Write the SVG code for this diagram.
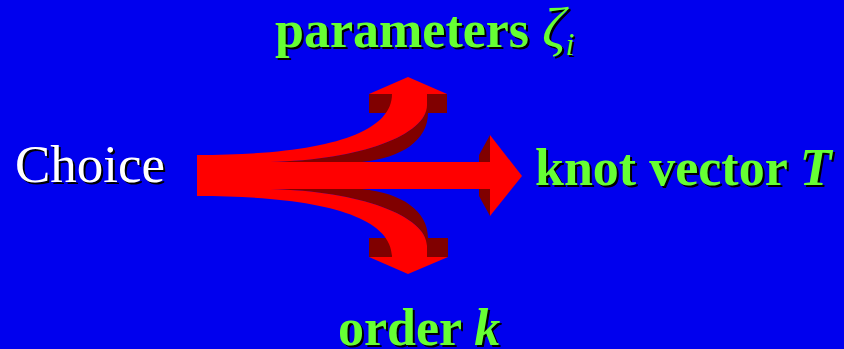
<svg xmlns="http://www.w3.org/2000/svg" width="844" height="349" viewBox="0 0 844 349">
<style>
.bg{fill:#0000EE}
.red{fill:#FF0000}
.dark{fill:#800000}
.lbl{font-family:"Liberation Serif","Times New Roman",serif;font-size:52px;font-weight:bold}
.green{fill:#66FF33}
.sh{fill:#000000}
.w{fill:#FFFFFF}
.ch{font-family:"Liberation Serif","Times New Roman",serif;font-size:53px}
</style>
<rect class="bg" x="0" y="0" width="844" height="349"/>
<g id="connectors">
  <!-- upper curved arrow -->
  <path class="dark" d="M270,162 C360,160 427,135 427,105 L428,113 C428,140 402,158 362,162 Z"/>
  <rect class="dark" x="369" y="94" width="78" height="19"/>
  <path class="red" d="M197,155 C320,155 392,135 392,94 L427,94 L427,105 C427,135 360,160 270,162 L197,162 Z"/>
  <polygon class="red" points="369,94 447,94 408,77"/>
  <!-- lower curved arrow -->
  <path class="dark" d="M270,189 C360,191 427,216 427,246 L428,238 C428,211 402,193 362,189 Z"/>
  <rect class="dark" x="369" y="238" width="79" height="19"/>
  <path class="red" d="M197,196 C320,196 392,216 392,257 L427,257 L427,246 C427,216 360,191 270,189 L197,189 Z"/>
  <polygon class="red" points="369,257 448,257 408,274"/>
  <!-- main arrow -->
  <polygon class="dark" points="490,135 479,155 479,162 490,162"/>
  <polygon class="dark" points="490,216 479,196 479,189 490,189"/>
  <rect class="red" x="197" y="162" width="294" height="27"/>
  <polygon class="red" points="490,135 522,176 490,216"/>
</g>
<g id="choice">
  <text class="ch sh" x="17" y="184">Choice</text>
  <text class="ch w" x="15" y="182">Choice</text>
</g>
<g id="parameters">
  <text class="lbl sh" x="277" y="49">parameters <tspan font-weight="normal" font-style="italic" font-size="58">ζ</tspan><tspan font-weight="normal" font-style="italic" font-size="32" dy="8">i</tspan></text>
  <text class="lbl green" x="275" y="47">parameters <tspan font-weight="normal" font-style="italic" font-size="58">ζ</tspan><tspan font-weight="normal" font-style="italic" font-size="32" dy="8">i</tspan></text>
</g>
<g id="knot">
  <text class="lbl sh" x="537" y="187">knot vector <tspan font-style="italic">T</tspan></text>
  <text class="lbl green" x="535" y="185">knot vector <tspan font-style="italic">T</tspan></text>
</g>
<g id="order">
  <text class="lbl sh" x="340" y="347">order <tspan font-style="italic">k</tspan></text>
  <text class="lbl green" x="338" y="345">order <tspan font-style="italic">k</tspan></text>
</g>
</svg>
